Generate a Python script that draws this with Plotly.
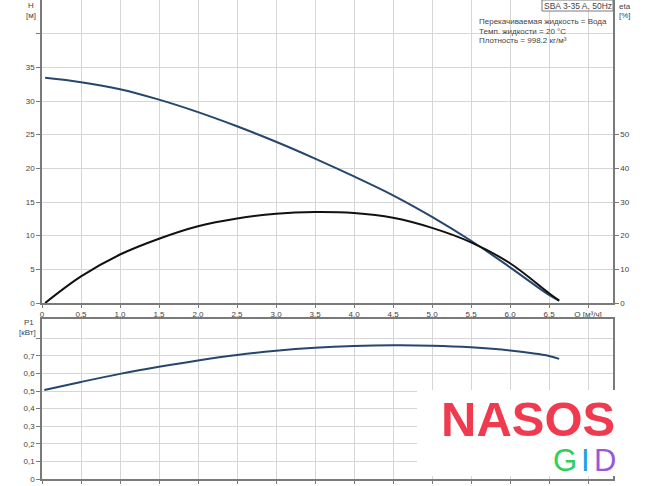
import plotly.graph_objects as go

# ---- data ----
q_h = [0.04, 0.5, 1.0, 1.5, 2.0, 2.5, 3.0, 3.5, 4.0, 4.5, 5.0, 5.5, 6.0, 6.5, 6.63]
head = [33.45, 32.8, 31.75, 30.2, 28.35, 26.25, 23.95, 21.45, 18.8, 16.0, 12.8, 9.25, 5.3, 1.2, 0.35]
eta = [0.0, 7.9, 14.4, 19.1, 22.8, 25.1, 26.5, 27.0, 26.7, 25.3, 22.3, 18.0, 11.8, 2.9, 0.7]
q_p = [0.03, 0.5, 1.0, 1.5, 2.0, 2.5, 3.0, 3.5, 4.0, 4.5, 5.0, 5.5, 6.0, 6.5, 6.63]
p1 = [0.506, 0.552, 0.598, 0.638, 0.674, 0.705, 0.729, 0.746, 0.756, 0.760, 0.758, 0.749, 0.731, 0.700, 0.683]

q_ticks = [0, 0.5, 1, 1.5, 2, 2.5, 3, 3.5, 4, 4.5, 5, 5.5, 6, 6.5, 7]
q_labels = ["0", "0,5", "1,0", "1,5", "2,0", "2,5", "3,0", "3,5", "4,0", "4,5",
            "5,0", "5,5", "6,0", "6,5", "Q [м³/ч]"]
h_ticks = [0, 5, 10, 15, 20, 25, 30, 35, 40]
h_labels = ["0", "5", "10", "15", "20", "25", "30", "35", ""]
eta_ticks = [0, 10, 20, 30, 40, 50]
eta_labels = ["0", "10", "20", "30", "40", "50"]
p_ticks = [0, 0.1, 0.2, 0.3, 0.4, 0.5, 0.6, 0.7, 0.8]
p_labels = ["0", "0,1", "0,2", "0,3", "0,4", "0,5", "0,6", "0,7", ""]

W, H = 650, 486
L, R, T, B = 42, 613, 0, 479
def px(x):
    return (x - L) / (R - L)
def py(y):
    return (B - y) / (B - T)

FONT = "Liberation Sans, Arial, sans-serif"
TXT = "#444444"
GRID = "#d6d6d6"
AX = "#7a7a7a"
BLUE = "#26466d"

fig = go.Figure()
fig.add_trace(go.Scatter(x=q_h, y=head, mode="lines", line=dict(color=BLUE, width=2, shape="spline"),
                         xaxis="x", yaxis="y", hoverinfo="skip"))
fig.add_trace(go.Scatter(x=q_h, y=eta, mode="lines", line=dict(color="#111111", width=2, shape="spline"),
                         xaxis="x", yaxis="y3", hoverinfo="skip"))
fig.add_trace(go.Scatter(x=q_p, y=p1, mode="lines", line=dict(color=BLUE, width=2, shape="spline"),
                         xaxis="x2", yaxis="y2", hoverinfo="skip"))

axfont = dict(family=FONT, size=8, color=TXT)
top_dom = [py(303), 1]
bot_dom = [0, py(319)]

fig.update_layout(
    width=W, height=H,
    margin=dict(l=L, r=W - R, t=T, b=H - B, pad=0, autoexpand=False),
    paper_bgcolor="white", plot_bgcolor="white",
    showlegend=False,
    xaxis=dict(domain=[0, 1], range=[0, 7.32], anchor="y", tickvals=q_ticks, ticktext=q_labels,
               showgrid=True, gridcolor=GRID, gridwidth=1, zeroline=False, automargin=False,
               showline=True, linecolor=AX, linewidth=1.5, mirror=True, ticks="outside", ticklen=3,
               tickcolor=AX, tickfont=axfont),
    yaxis=dict(domain=top_dom, range=[0, 45], anchor="x", tickvals=h_ticks, ticktext=h_labels,
               showgrid=True, gridcolor=GRID, gridwidth=1, zeroline=False, automargin=False,
               showline=True, linecolor=AX, linewidth=1.5, ticks="outside", ticklen=4,
               tickcolor=AX, tickfont=axfont),
    yaxis3=dict(range=[0, 90], overlaying="y", side="right", anchor="x", tickvals=eta_ticks,
                ticktext=eta_labels, showgrid=False, zeroline=False, automargin=False,
                showline=True, linecolor=AX, linewidth=1.5, ticks="outside", ticklen=4,
                tickcolor=AX, tickfont=axfont),
    xaxis2=dict(domain=[0, 1], range=[0, 7.32], anchor="y2", tickvals=q_ticks, showticklabels=False,
                showgrid=True, gridcolor=GRID, gridwidth=1, zeroline=False, automargin=False,
                showline=True, linecolor=AX, linewidth=1.5, mirror=True, ticks="outside",
                ticklen=3, tickcolor=AX),
    yaxis2=dict(domain=bot_dom, range=[0, 0.91], anchor="x2", tickvals=p_ticks, ticktext=p_labels,
                showgrid=True, gridcolor=GRID, gridwidth=1, zeroline=False, automargin=False,
                showline=True, linecolor=AX, linewidth=1.5, mirror=True, ticks="outside",
                ticklen=4, tickcolor=AX, tickfont=axfont),
)

shapes = [
    dict(type="rect", xref="paper", yref="paper", x0=px(542), x1=px(613), y0=py(11), y1=py(0),
         line=dict(color=AX, width=1), fillcolor="white", layer="above"),
    dict(type="rect", xref="paper", yref="paper", x0=px(417), x1=px(650), y0=py(476), y1=py(390),
         line=dict(width=0), fillcolor="white", layer="above"),
]
fig.update_layout(shapes=shapes)

def ann(x, y, text, size=8, color=TXT, xanchor="left", family=FONT):
    fig.add_annotation(xref="paper", yref="paper", x=px(x), y=py(y), text=text, showarrow=False,
                       xanchor=xanchor, yanchor="middle", font=dict(family=family, size=size, color=color))

ann(577.5, 6, "SBA 3-35 A, 50Hz", size=8.5, xanchor="center")
ann(477, 21.5, "Перекачиваемая жидкость = Вода", size=8)
ann(477, 31, "Темп. жидкости = 20 °C", size=8)
ann(477, 40.5, "Плотность = 998.2 кг/м³", size=8)
ann(617, 6, "eta", size=8)
ann(617, 15.5, "[%]", size=8)
ann(31, 5, "H", size=8, xanchor="center")
ann(31, 16, "[м]", size=8, xanchor="center")
ann(29, 322, "P1", size=8, xanchor="center")
ann(27, 332.5, "[кВт]", size=8, xanchor="center")

# watermark logo
ann(528, 419, "<b>NASOS</b>", size=49, color="#ef3a4f", xanchor="center")
ann(565, 460, "G", size=31, color="#2fcf5a", xanchor="center")
ann(585.5, 460, "I", size=31, color="#1f9fe6", xanchor="center")
ann(605, 460, "D", size=31, color="#9a58d8", xanchor="center")

fig.write_html("out.html", config={"displayModeBar": False},
               post_script="document.body.style.margin='0';document.body.style.overflow='hidden';")
